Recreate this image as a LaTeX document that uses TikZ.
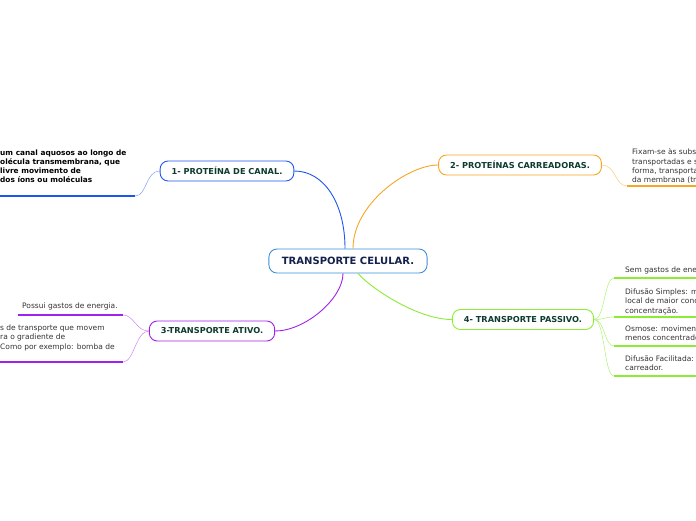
\documentclass[tikz,border=0pt]{standalone}
\usepackage{fontspec}
\setmainfont{DejaVu Sans}
\usepackage{xcolor}
\definecolor{cCentro}{HTML}{3C8FD8}
\definecolor{cNavy}{HTML}{15214A}
\definecolor{cTopic}{HTML}{0E3B2E}
\definecolor{cCanal}{HTML}{1E55F0}
\definecolor{cCarreg}{HTML}{F5A623}
\definecolor{cAtivo}{HTML}{A020EC}
\definecolor{cPassivo}{HTML}{8CEB34}
\definecolor{cSub}{HTML}{333333}
\usetikzlibrary{positioning}
\tikzset{
  node-main/.style={draw=cCentro,line width=0.9pt,rounded corners=8pt,fill=white,
    minimum height=24pt,inner xsep=13pt,text=cNavy,
    font=\fontsize{10}{12}\selectfont\bfseries},
  node-topic/.style={line width=0.9pt,rounded corners=8pt,fill=white,
    minimum height=20pt,inner xsep=11.5pt,text=cTopic,
    font=\fontsize{8.2}{10}\selectfont\bfseries},
  node-sub/.style={inner sep=0pt,align=left,anchor=north west,text=cSub,
    font=\fontsize{7.5}{9.3}\selectfont},
  link/.style={line width=0.9pt},
  link-thin/.style={line width=0.5pt},
  under/.style={line width=1.6pt},
}
\begin{document}
\begin{tikzpicture}[x=1pt,y=-1pt]
  \useasboundingbox (0,0) rectangle (696,520);
  \clip (0,0) rectangle (696,520);

  % centro e ramos
  \node[node-main] (cel) at (348,261) {TRANSPORTE CELULAR.};
  \node[node-topic,draw=cCanal] (canal) at (227,171) {1- PROTEÍNA DE CANAL.};
  \node[node-topic,draw=cCarreg] (carreg) at (520,165) {2- PROTEÍNAS CARREADORAS.};
  \node[node-topic,draw=cAtivo] (ativo) at (212,331) {3-TRANSPORTE ATIVO.};
  \node[node-topic,draw=cPassivo] (passivo) at (523,319.5) {4- TRANSPORTE PASSIVO.};
  \draw[link,cCanal] ([xshift=-3pt]cel.north) .. controls +(0,-45) and +(30,0) .. (canal.east);
  \draw[link,cCarreg] ([xshift=5pt]cel.north) .. controls +(0,-45) and +(-30,0) .. (carreg.west);
  \draw[link,cAtivo] ([xshift=-5pt]cel.south) .. controls +(0,25) and +(30,0) .. (ativo.east);
  \draw[link,cPassivo] ([xshift=10pt]cel.south) .. controls +(12,14) and +(-35,0) .. (passivo.west);

  % 1- canal
  \coordinate (canal-a) at (135,196);
  \coordinate (canal-a0) at (0,196);
  \draw[link-thin,cCanal!55] (canal.west) .. controls +(-14,0) and +(12,0) .. (canal-a);
  \draw[under,cCanal] (canal-a) -- (canal-a0);
  \node[node-sub,text=black,font=\fontsize{7.4}{9.2}\selectfont\bfseries] (canal-t) at (0,149.5)
    {um canal aquosos ao longo de\\olécula transmembrana, que\\livre movimento de\\dos íons ou moléculas};

  % 2- carreadoras
  \coordinate (carreg-a) at (627,186);
  \coordinate (carreg-a0) at (696,186);
  \draw[link-thin,cCarreg!60] (carreg.east) .. controls +(14,0) and +(-12,0) .. (carreg-a);
  \draw[under,cCarreg] (carreg-a) -- (carreg-a0);
  \node[node-sub] (carreg-t) at (632,148.5)
    {Fixam-se às subs\\transportadas e s\\forma, transporta\\da membrana (tr};

  % 3- ativo
  \coordinate (ativo-a) at (123,315);
  \coordinate (ativo-a0) at (18,315);
  \coordinate (ativo-b) at (123,362);
  \coordinate (ativo-b0) at (0,362);
  \draw[link-thin,cAtivo!55] (ativo.west) .. controls +(-13,0) and +(11,0) .. (ativo-a);
  \draw[link-thin,cAtivo!55] (ativo.west) .. controls +(-13,0) and +(11,0) .. (ativo-b);
  \draw[under,cAtivo] (ativo-a) -- (ativo-a0);
  \draw[under,cAtivo] (ativo-b) -- (ativo-b0);
  \node[node-sub] (ativo-ta) at (22,303) {Possui gastos de energia.};
  \node[node-sub] (ativo-tb) at (0,324.5)
    {s de transporte que movem\\ra o gradiente de\\Como por exemplo: bomba de};

  % 4- passivo
  \coordinate (passivo-a) at (614,278);
  \coordinate (passivo-b) at (614,317);
  \coordinate (passivo-c) at (614,346);
  \coordinate (passivo-d) at (614,376);
  \foreach \s in {a,b,c,d}{
    \coordinate (passivo-\s0) at (696,0 |- passivo-\s);
    \draw[link-thin,cPassivo!70] (passivo.east) .. controls +(11,0) and +(-10,0) .. (passivo-\s);
    \draw[under,cPassivo] (passivo-\s) -- (passivo-\s0);
  }
  \node[node-sub] (passivo-ta) at (625,266.5) {Sem gastos de ene};
  \node[node-sub] (passivo-tb) at (625,288.5)
    {Difusão Simples: m\\local de maior conc\\concentração.};
  \node[node-sub] (passivo-tc) at (625,325.5) {Osmose: movimen\\menos concentrado};
  \node[node-sub] (passivo-td) at (625,355.5) {Difusão Facilitada:\\carreador.};
\end{tikzpicture}
\end{document}
